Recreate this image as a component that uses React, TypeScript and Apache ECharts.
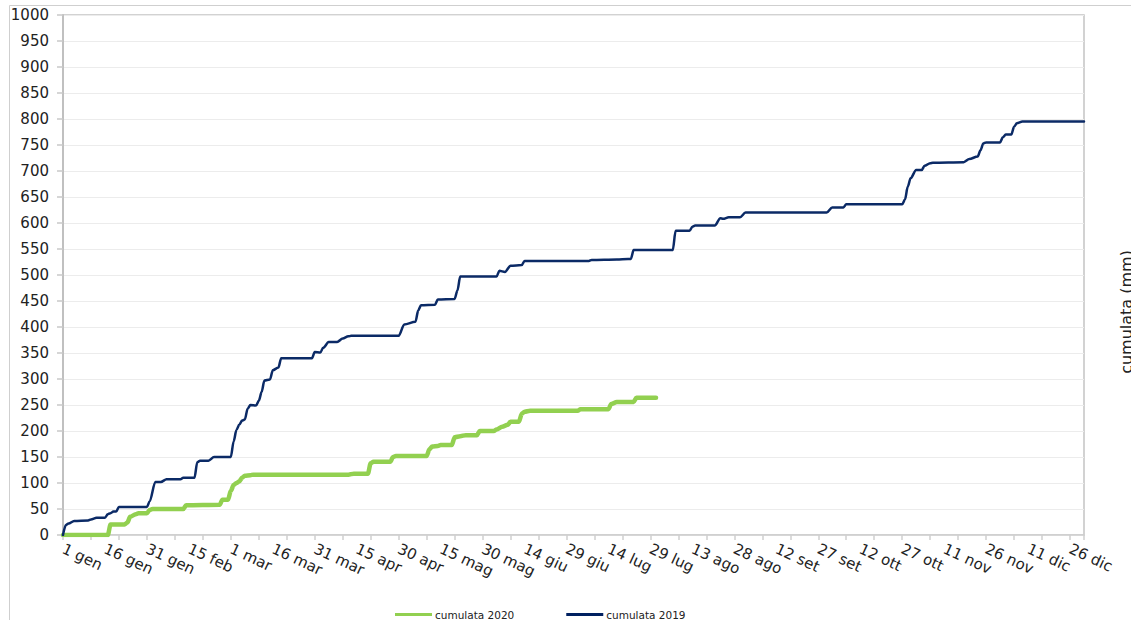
import React, { useEffect, useRef } from "react";
import * as echarts from "echarts";

// Calendar (2020, leap year) in Italian
const MONTHS = ["gen", "feb", "mar", "apr", "mag", "giu", "lug", "ago", "set", "ott", "nov", "dic"];
const MONTH_DAYS = [31, 29, 31, 30, 31, 30, 31, 31, 30, 31, 30, 31];
const categories: string[] = [];
MONTHS.forEach((m, i) => {
  for (let d = 1; d <= MONTH_DAYS[i]; d++) categories.push(`${d} ${m}`);
});
const LABEL_EVERY = 15; // a tick label every 15 days
const TICK_EVERY = 10; // a tick mark every 10 days

// Y-axis
const Y_MIN = 0;
const Y_MAX = 1000;
const Y_STEP = 50;

// Series: [dayIndex, cumulative mm]
const cumulata2019: [number, number][] = [
  [0, 0], [1, 19], [2, 22], [4, 27], [9, 28], [10, 30], [12, 33], [15, 33], [16, 40], [17, 42], [18, 45], [19, 45],
  [20, 54], [30, 54], [31, 65], [33, 102], [35, 102], [37, 107], [42, 107], [43, 110], [47, 110], [48, 140],
  [49, 143], [52, 143], [54, 150], [60, 150], [61, 180], [62, 202], [63, 212], [64, 220], [65, 222], [66, 243],
  [67, 250], [69, 249], [70, 258], [71, 275], [72, 297], [74, 299], [75, 317], [77, 322], [78, 340], [89, 340],
  [90, 352], [92, 351], [93, 360], [95, 371], [98, 371], [100, 378], [102, 382], [103, 383], [120, 383],
  [122, 405], [126, 410], [127, 432], [128, 442], [133, 443], [134, 453], [140, 454], [141, 470], [142, 497],
  [155, 497], [156, 508], [158, 506], [160, 518], [164, 519], [165, 527], [188, 527], [189, 529], [198, 530],
  [202, 531], [203, 531], [204, 548], [218, 548], [219, 585], [224, 585], [225, 593], [226, 595], [233, 595],
  [235, 609], [236, 608], [238, 611], [242, 611], [244, 620], [273, 620], [275, 630], [279, 630], [280, 636],
  [300, 636], [301, 645], [302, 670], [303, 686], [305, 702], [307, 702], [308, 710], [310, 715], [311, 716],
  [322, 717], [324, 723], [327, 728], [328, 740], [329, 753], [330, 755], [335, 755], [336, 765], [337, 770],
  [339, 770], [340, 785], [341, 792], [343, 795], [365, 795],
];

const cumulata2020: [number, number][] = [
  [0, 0], [16, 0], [17, 20], [22, 20], [23, 24], [24, 35], [26, 40], [27, 42], [30, 42], [31, 48], [32, 50],
  [43, 50], [44, 57], [56, 58], [57, 68], [59, 68], [60, 85], [61, 96], [62, 100], [63, 103], [64, 110],
  [65, 114], [67, 115], [68, 116], [102, 116], [104, 118], [109, 118], [110, 138], [111, 141], [117, 141],
  [118, 150], [119, 152], [130, 152], [131, 165], [132, 170], [134, 171], [135, 173], [139, 173], [140, 188],
  [142, 190], [144, 192], [148, 192], [149, 200], [154, 200], [155, 203], [157, 208], [159, 212], [160, 218],
  [163, 218], [164, 233], [165, 237], [167, 239], [184, 239], [185, 242], [195, 242], [196, 252], [198, 256],
  [204, 256], [205, 264], [212, 264],
];

const SERIES_NAMES = ["cumulata 2020", "cumulata 2019"];
const Y_AXIS_TITLE = "cumulata (mm)";

const FONT = "'DejaVu Sans', Verdana, sans-serif";

export default function App() {
  const ref = useRef<HTMLDivElement>(null);
  useEffect(() => {
    if (!ref.current) return;
    const chart = echarts.init(ref.current, undefined, { renderer: "svg" });
    chart.setOption({
      animation: false,
      backgroundColor: "#ffffff",
      textStyle: { fontFamily: FONT },
      grid: {
        left: 63,
        right: 47,
        top: 15,
        bottom: 85,
        show: true,
        borderColor: "#c4c4c4",
        borderWidth: 1.5,
        backgroundColor: "transparent",
      },
      legend: {
        left: 395,
        top: 609,
        padding: 0,
        itemWidth: 37,
        itemHeight: 3,
        itemGap: 52,
        icon: "rect",
        textStyle: { fontFamily: FONT, fontSize: 10.5, color: "#222", padding: [0, 0, 0, -2] },
        data: SERIES_NAMES,
      },
      xAxis: {
        type: "category",
        data: categories,
        boundaryGap: false,
        axisLine: { lineStyle: { color: "#cfcfcf", width: 1.5 } },
        axisTick: {
          show: true,
          interval: TICK_EVERY - 1,
          length: 5,
          lineStyle: { color: "#cfcfcf", width: 1.5 },
        },
        axisLabel: {
          interval: 0,
          formatter: (value: string, index: number) => (index % LABEL_EVERY === 0 ? value : ""),
          rotate: -25,
          margin: 13,
          fontFamily: FONT,
          fontSize: 15,
          color: "#222",
        },
        splitLine: { show: false },
      },
      yAxis: {
        type: "value",
        min: Y_MIN,
        max: Y_MAX,
        interval: Y_STEP,
        axisLine: { show: true, lineStyle: { color: "#c0c0c0", width: 2 } },
        axisTick: { show: true, length: 6, lineStyle: { color: "#c8c8c8", width: 1.5 } },
        axisLabel: {
          fontFamily: FONT,
          fontSize: 15,
          color: "#222",
          margin: 14,
          formatter: (v: number) => String(v),
        },
        splitLine: { show: true, lineStyle: { color: "#ececec", width: 1.2 } },
      },
      graphic: [
        {
          type: "rect",
          silent: true,
          shape: { x: 9.5, y: 5.5, width: 1140, height: 640 },
          style: { fill: "none", stroke: "#cfcfcf", lineWidth: 1 },
        },
        {
          type: "text",
          x: 1134,
          y: 312,
          rotation: Math.PI / 2,
          style: {
            text: Y_AXIS_TITLE,
            fontFamily: FONT,
            fontSize: 16,
            fill: "#222",
            textAlign: "center",
            textVerticalAlign: "bottom",
          },
        },
      ],
      series: [
        {
          name: SERIES_NAMES[0],
          type: "line",
          data: cumulata2020,
          showSymbol: false,
          smooth: 0.3,
          smoothMonotone: "x",
          color: "#92d050",
          lineStyle: { color: "#92d050", width: 4.5, cap: "round", join: "round" },
          z: 3,
        },
        {
          name: SERIES_NAMES[1],
          type: "line",
          data: cumulata2019,
          showSymbol: false,
          smooth: 0.3,
          smoothMonotone: "x",
          color: "#002060",
          lineStyle: { color: "#0b2a66", width: 2.5, cap: "round", join: "round" },
          z: 4,
        },
      ],
    });
    return () => chart.dispose();
  }, []);
  return (
    <div
      ref={ref}
      style={{ position: "absolute", left: 0, top: 0, width: 1131, height: 620 }}
    />
  );
}
